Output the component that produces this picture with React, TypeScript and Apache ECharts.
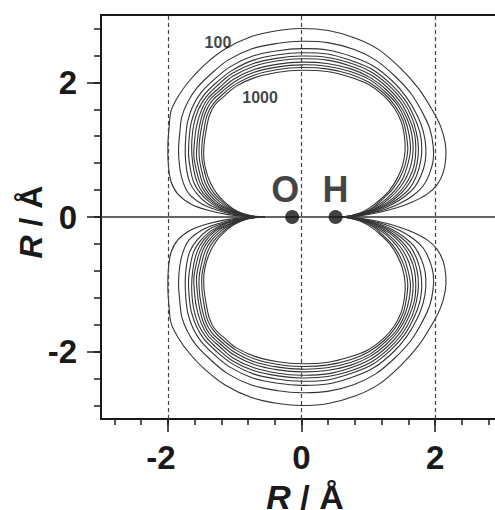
import React, { useEffect, useRef } from "react";
import * as echarts from "echarts";

// Contour levels (outermost 100 → innermost 1000)
const contourLevels = [100, 200, 300, 400, 500, 600, 700, 800, 900, 1000];

// Upper lobe of each contour, [x, y] in Å (left cusp → top → right cusp).
// The lower lobe in the picture is the mirror image of the upper one.
const c100 = [[-0.55, 0], [-0.8, 0.005], [-1.1, 0.035], [-1.4, 0.1], [-1.65, 0.19], [-1.85, 0.34], [-1.95, 0.52], [-1.99, 0.75], [-2.0, 1.05], [-1.98, 1.35], [-1.95, 1.58], [-1.84, 1.8], [-1.68, 2.02], [-1.45, 2.26], [-1.15, 2.49], [-0.75, 2.68], [-0.35, 2.77], [0, 2.8], [0.4, 2.77], [0.8, 2.66], [1.15, 2.49], [1.48, 2.21], [1.75, 1.91], [1.95, 1.6], [2.08, 1.35], [2.15, 1.1], [2.16, 0.88], [2.12, 0.66], [2.03, 0.48], [1.88, 0.34], [1.65, 0.22], [1.4, 0.13], [1.12, 0.06], [0.85, 0.015], [0.6, 0]];
const c200 = [[-0.55, 0], [-0.78, 0.01], [-1.03, 0.04], [-1.29, 0.11], [-1.5, 0.2], [-1.68, 0.34], [-1.77, 0.51], [-1.82, 0.72], [-1.84, 0.99], [-1.82, 1.26], [-1.79, 1.49], [-1.7, 1.71], [-1.57, 1.91], [-1.36, 2.12], [-1.1, 2.33], [-0.74, 2.5], [-0.35, 2.58], [0, 2.61], [0.39, 2.59], [0.78, 2.49], [1.11, 2.33], [1.4, 2.09], [1.64, 1.83], [1.81, 1.55], [1.92, 1.31], [1.97, 1.06], [1.97, 0.84], [1.91, 0.63], [1.82, 0.46], [1.67, 0.32], [1.47, 0.2], [1.25, 0.11], [1.01, 0.05], [0.8, 0.01], [0.6, 0]];
const c300 = [[-0.55, 0], [-0.76, 0.01], [-0.99, 0.04], [-1.22, 0.11], [-1.41, 0.2], [-1.57, 0.35], [-1.67, 0.51], [-1.72, 0.71], [-1.74, 0.95], [-1.73, 1.21], [-1.7, 1.43], [-1.62, 1.66], [-1.5, 1.85], [-1.31, 2.04], [-1.07, 2.23], [-0.73, 2.39], [-0.35, 2.47], [0, 2.5], [0.39, 2.48], [0.76, 2.38], [1.08, 2.24], [1.36, 2.02], [1.57, 1.78], [1.73, 1.51], [1.82, 1.28], [1.86, 1.04], [1.85, 0.82], [1.79, 0.62], [1.69, 0.44], [1.54, 0.3], [1.36, 0.19], [1.16, 0.1], [0.95, 0.04], [0.76, 0.01], [0.6, 0]];
const c400 = [[-0.55, 0], [-0.75, 0.01], [-0.97, 0.04], [-1.18, 0.11], [-1.36, 0.21], [-1.51, 0.35], [-1.61, 0.51], [-1.66, 0.7], [-1.69, 0.93], [-1.68, 1.18], [-1.65, 1.4], [-1.57, 1.63], [-1.46, 1.81], [-1.28, 1.99], [-1.05, 2.17], [-0.72, 2.33], [-0.35, 2.41], [0, 2.44], [0.39, 2.42], [0.75, 2.32], [1.06, 2.19], [1.33, 1.98], [1.54, 1.75], [1.68, 1.5], [1.77, 1.26], [1.8, 1.03], [1.78, 0.81], [1.72, 0.61], [1.62, 0.43], [1.47, 0.29], [1.3, 0.18], [1.11, 0.1], [0.91, 0.04], [0.75, 0.01], [0.6, 0]];
const c500 = [[-0.55, 0], [-0.75, 0.01], [-0.95, 0.05], [-1.15, 0.11], [-1.32, 0.21], [-1.47, 0.35], [-1.56, 0.51], [-1.61, 0.69], [-1.64, 0.92], [-1.64, 1.15], [-1.61, 1.38], [-1.54, 1.6], [-1.43, 1.78], [-1.25, 1.96], [-1.04, 2.13], [-0.72, 2.28], [-0.35, 2.36], [0, 2.39], [0.39, 2.37], [0.75, 2.28], [1.05, 2.15], [1.31, 1.95], [1.51, 1.73], [1.65, 1.48], [1.72, 1.25], [1.75, 1.02], [1.73, 0.8], [1.67, 0.6], [1.56, 0.43], [1.42, 0.29], [1.25, 0.17], [1.07, 0.09], [0.88, 0.04], [0.73, 0.01], [0.6, 0]];
const c600 = [[-0.55, 0], [-0.74, 0.01], [-0.94, 0.05], [-1.12, 0.12], [-1.29, 0.21], [-1.43, 0.35], [-1.52, 0.51], [-1.57, 0.68], [-1.61, 0.9], [-1.6, 1.13], [-1.57, 1.35], [-1.5, 1.58], [-1.4, 1.76], [-1.23, 1.92], [-1.03, 2.09], [-0.71, 2.24], [-0.35, 2.32], [0, 2.35], [0.39, 2.33], [0.74, 2.24], [1.04, 2.11], [1.29, 1.92], [1.48, 1.71], [1.61, 1.47], [1.69, 1.24], [1.71, 1.01], [1.69, 0.79], [1.62, 0.59], [1.51, 0.42], [1.37, 0.28], [1.21, 0.17], [1.04, 0.09], [0.86, 0.03], [0.72, 0.01], [0.6, 0]];
const c700 = [[-0.55, 0], [-0.74, 0.01], [-0.92, 0.05], [-1.1, 0.12], [-1.25, 0.21], [-1.39, 0.35], [-1.48, 0.5], [-1.53, 0.68], [-1.57, 0.89], [-1.56, 1.11], [-1.53, 1.33], [-1.47, 1.56], [-1.38, 1.73], [-1.21, 1.89], [-1.01, 2.05], [-0.71, 2.19], [-0.35, 2.27], [0, 2.3], [0.38, 2.28], [0.74, 2.2], [1.03, 2.07], [1.27, 1.89], [1.45, 1.69], [1.58, 1.46], [1.65, 1.23], [1.67, 1.0], [1.64, 0.78], [1.57, 0.59], [1.46, 0.42], [1.32, 0.28], [1.16, 0.16], [1.0, 0.08], [0.83, 0.03], [0.71, 0.01], [0.6, 0]];
const c800 = [[-0.55, 0], [-0.73, 0.01], [-0.91, 0.05], [-1.07, 0.12], [-1.22, 0.22], [-1.35, 0.35], [-1.44, 0.5], [-1.49, 0.67], [-1.53, 0.88], [-1.53, 1.09], [-1.5, 1.31], [-1.44, 1.54], [-1.35, 1.71], [-1.19, 1.86], [-1.0, 2.01], [-0.71, 2.15], [-0.35, 2.23], [0, 2.26], [0.38, 2.24], [0.73, 2.16], [1.02, 2.04], [1.25, 1.86], [1.43, 1.67], [1.55, 1.44], [1.61, 1.22], [1.63, 1.0], [1.59, 0.78], [1.52, 0.58], [1.41, 0.41], [1.27, 0.27], [1.12, 0.16], [0.97, 0.08], [0.81, 0.03], [0.69, 0.01], [0.6, 0]];
const c900 = [[-0.55, 0], [-0.73, 0.01], [-0.89, 0.05], [-1.04, 0.12], [-1.18, 0.22], [-1.31, 0.35], [-1.4, 0.5], [-1.45, 0.67], [-1.49, 0.86], [-1.49, 1.07], [-1.46, 1.29], [-1.41, 1.52], [-1.32, 1.68], [-1.17, 1.83], [-0.99, 1.97], [-0.7, 2.11], [-0.35, 2.19], [0, 2.22], [0.38, 2.2], [0.73, 2.12], [1.01, 2.0], [1.24, 1.83], [1.4, 1.65], [1.52, 1.43], [1.57, 1.21], [1.59, 0.99], [1.55, 0.77], [1.47, 0.58], [1.36, 0.41], [1.22, 0.27], [1.08, 0.15], [0.93, 0.07], [0.78, 0.03], [0.68, 0.01], [0.6, 0]];
const c1000 = [[-0.55, 0], [-0.72, 0.015], [-0.88, 0.05], [-1.02, 0.12], [-1.15, 0.22], [-1.27, 0.35], [-1.36, 0.5], [-1.42, 0.66], [-1.46, 0.85], [-1.46, 1.05], [-1.43, 1.27], [-1.38, 1.5], [-1.3, 1.66], [-1.15, 1.8], [-0.98, 1.94], [-0.7, 2.07], [-0.35, 2.15], [0, 2.18], [0.38, 2.16], [0.72, 2.08], [1.0, 1.97], [1.22, 1.81], [1.38, 1.63], [1.49, 1.42], [1.54, 1.2], [1.55, 0.98], [1.51, 0.76], [1.43, 0.57], [1.32, 0.4], [1.18, 0.26], [1.04, 0.15], [0.9, 0.07], [0.76, 0.025], [0.67, 0.005], [0.6, 0]];
const contourUpper = [c100, c200, c300, c400, c500, c600, c700, c800, c900, c1000];

// Atoms
const atomNames = ["O", "H"];
const atomX = [-0.14, 0.51];
const atomY = [0, 0];

// Contour level labels
const levelLabelText = ["100", "1000"];
const levelLabelX = [-1.25, -0.62];
const levelLabelY = [2.59, 1.78];

// Axis ticks
const majorTicks = [-2, 0, 2];
const minorTicks = [-2.8, -2.4, -2.0, -1.6, -1.2, -0.8, -0.4, 0, 0.4, 0.8, 1.2, 1.6, 2.0, 2.4, 2.8];

const FONT = "'Liberation Sans', Arial, Helvetica, sans-serif";
const INK = "#1a1a1a";

export default function App() {
  const ref = useRef<HTMLDivElement>(null);

  useEffect(() => {
    if (!ref.current) return;
    const chart = echarts.init(ref.current, undefined, { renderer: "svg" });

    // one data item per lobe: [contour index, side (+1 upper, -1 lower)]
    const lobes: number[][] = [];
    contourUpper.forEach((_, i) => {
      lobes.push([i, 1]);
      lobes.push([i, -1]);
    });

    const series: any[] = [];
    series.push({
      type: "custom",
      name: "contours",
      silent: true,
      z: 3,
      data: lobes,
      encode: { x: -1, y: -1 },
      renderItem: (params: any, api: any) => {
        const idx = api.value(0);
        const side = api.value(1);
        const pts = contourUpper[idx].map(([x, y]) => api.coord([x, side * y]));
        return {
          type: "polyline",
          name: String(contourLevels[idx]),
          shape: { points: pts, smooth: 0.35 },
          style: { fill: "none", stroke: "#333", lineWidth: 1.1 },
          silent: true,
        };
      },
    });

    series.push({
      type: "scatter",
      silent: true,
      z: 6,
      symbolSize: 14,
      itemStyle: { color: "#111" },
      data: atomNames.map((n, i) => ({
        name: n,
        value: [atomX[i], atomY[i]],
        label: { offset: i === 0 ? [-7, 0] : [0, 0] },
      })),
      label: {
        show: true,
        formatter: "{b}",
        position: "top",
        distance: 3,
        fontSize: 36,
        fontWeight: "bold",
        fontFamily: FONT,
        color: "#111",
      },
      markLine: {
        silent: true,
        symbol: ["none", "none"],
        label: { show: false },
        animation: false,
        data: [
          ...majorTicks.map((v) => ({ xAxis: v, lineStyle: { type: [4, 3], color: "#444", width: 1.2 } })),
          { yAxis: 0, lineStyle: { type: "solid", color: "#333", width: 1.5 } },
        ],
      },
    });

    series.push({
      type: "scatter",
      silent: true,
      z: 7,
      symbolSize: 0,
      data: levelLabelText.map((t, i) => ({ name: t, value: [levelLabelX[i], levelLabelY[i]] })),
      label: {
        show: true,
        formatter: "{b}",
        position: "inside",
        fontSize: 16,
        fontWeight: "bold",
        fontFamily: FONT,
        color: "#111",
      },
    });

    const labelStyle = { fontSize: 33, fontWeight: "bold", fontFamily: FONT, color: INK };

    chart.setOption({
      animation: false,
      grid: {
        left: 101,
        top: 15,
        right: 1,
        bottom: 91,
        show: true,
        borderColor: INK,
        borderWidth: 2,
        backgroundColor: "transparent",
      },
      xAxis: [
        {
          type: "value",
          min: -3,
          max: 3,
          position: "bottom",
          axisLine: { show: true, onZero: false, lineStyle: { color: INK, width: 2 } },
          axisTick: { show: true, customValues: majorTicks, length: 13, lineStyle: { color: INK, width: 1.5 } },
          axisLabel: {
            show: true,
            customValues: majorTicks,
            margin: 22,
            ...labelStyle,
            formatter: (v: number) => (v < 0 ? "{n|" + v + "}" : String(v)),
            rich: { n: { ...labelStyle, padding: [0, 14, 0, 0] } },
          },
          splitLine: { show: false },
        },
        {
          type: "value",
          min: -3,
          max: 3,
          position: "bottom",
          axisLine: { show: false, onZero: false },
          axisTick: { show: true, customValues: minorTicks, length: 6, lineStyle: { color: INK, width: 1.5 } },
          axisLabel: { show: false },
          splitLine: { show: false },
        },
      ],
      yAxis: [
        {
          type: "value",
          min: -3,
          max: 3,
          position: "left",
          axisLine: { show: true, onZero: false, lineStyle: { color: INK, width: 2 } },
          axisTick: { show: true, customValues: majorTicks, length: 14, lineStyle: { color: INK, width: 1.5 } },
          axisLabel: { show: true, customValues: majorTicks, margin: 24, ...labelStyle },
          splitLine: { show: false },
        },
        {
          type: "value",
          min: -3,
          max: 3,
          position: "left",
          axisLine: { show: false, onZero: false },
          axisTick: { show: true, customValues: minorTicks, length: 7, lineStyle: { color: INK, width: 1.5 } },
          axisLabel: { show: false },
          splitLine: { show: false },
        },
      ],
      graphic: [
        {
          type: "text",
          x: 305,
          y: 497,
          silent: true,
          style: {
            text: "{i|R} / Å",
            rich: { i: { fontStyle: "italic", fontSize: 34, fontWeight: "bold", fontFamily: FONT, fill: INK } },
            fontSize: 34,
            fontWeight: "bold",
            fontFamily: FONT,
            fill: INK,
            textAlign: "center",
            textVerticalAlign: "middle",
          },
        },
        {
          type: "text",
          x: 31,
          y: 222,
          rotation: Math.PI / 2,
          silent: true,
          style: {
            text: "{i|R} / Å",
            rich: { i: { fontStyle: "italic", fontSize: 32, fontWeight: "bold", fontFamily: FONT, fill: INK } },
            fontSize: 32,
            fontWeight: "bold",
            fontFamily: FONT,
            fill: INK,
            textAlign: "center",
            textVerticalAlign: "middle",
          },
        },
      ],
      series,
    });

    return () => chart.dispose();
  }, []);

  return (
    <div style={{ position: "absolute", left: 0, top: 0, width: 495, height: 510, overflow: "hidden", background: "#fff" }}>
      <div ref={ref} style={{ width: 503, height: 510 }} />
    </div>
  );
}
